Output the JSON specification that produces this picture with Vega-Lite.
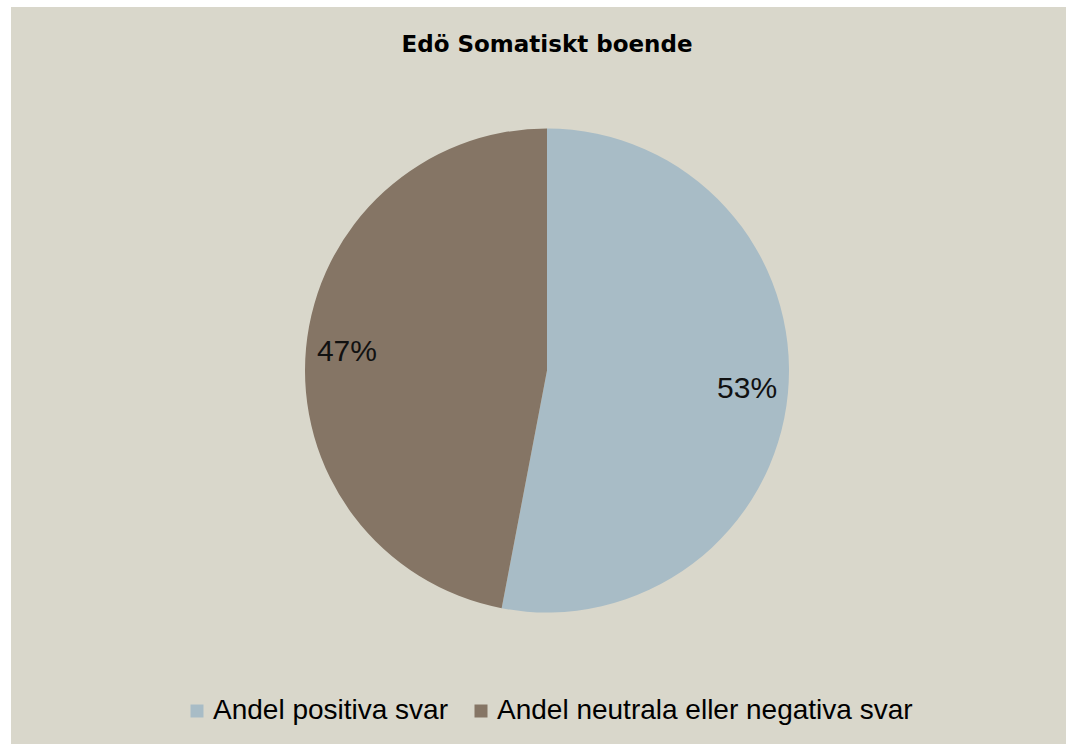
{
  "$schema": "https://vega.github.io/schema/vega-lite/v6.json",
  "width": 1072,
  "height": 737,
  "autosize": {"type": "none"},
  "padding": {"left": 11, "top": 7, "right": 0, "bottom": 0},
  "background": "#ffffff",
  "view": {"fill": "#d9d7cb", "stroke": null},
  "title": {
    "text": "Edö Somatiskt boende",
    "font": "DejaVu Sans",
    "fontSize": 23,
    "fontWeight": "bold",
    "color": "#000000",
    "anchor": "middle",
    "frame": "group",
    "baseline": "middle",
    "offset": -38,
    "dy": 23
  },
  "data": {
    "values": [
      {"category": "Andel positiva svar", "share": 53, "label": "53%", "order": 1},
      {"category": "Andel neutrala eller negativa svar", "share": 47, "label": "47%", "order": 2}
    ]
  },
  "layer": [
    {
      "mark": {"type": "arc", "outerRadius": 242, "yOffset": -5, "stroke": null},
      "encoding": {
        "theta": {"field": "share", "type": "quantitative", "stack": true},
        "order": {"field": "order", "type": "quantitative"},
        "color": {
          "field": "category",
          "type": "nominal",
          "scale": {
            "domain": ["Andel positiva svar", "Andel neutrala eller negativa svar"],
            "range": ["#a8bcc6", "#857565"]
          },
          "legend": {
            "title": null,
            "orient": "none",
            "direction": "horizontal",
            "legendX": 172,
            "legendY": 690,
            "symbolType": "square",
            "symbolSize": 169,
            "symbolStrokeWidth": 0,
            "labelFont": "Liberation Sans",
            "labelFontSize": 28,
            "labelColor": "#000000",
            "labelLimit": 600,
            "columnPadding": 18,
            "symbolOffset": 0,
            "labelOffset": 2
          }
        }
      }
    },
    {
      "mark": {
        "type": "text",
        "radius": 201,
        "yOffset": -5,
        "font": "Liberation Sans",
        "fontSize": 30,
        "color": "#111111",
        "align": "center",
        "baseline": "middle"
      },
      "encoding": {
        "theta": {"field": "share", "type": "quantitative", "stack": true},
        "order": {"field": "order", "type": "quantitative"},
        "detail": {"field": "category", "type": "nominal"},
        "text": {"field": "label", "type": "nominal"}
      }
    }
  ]
}
